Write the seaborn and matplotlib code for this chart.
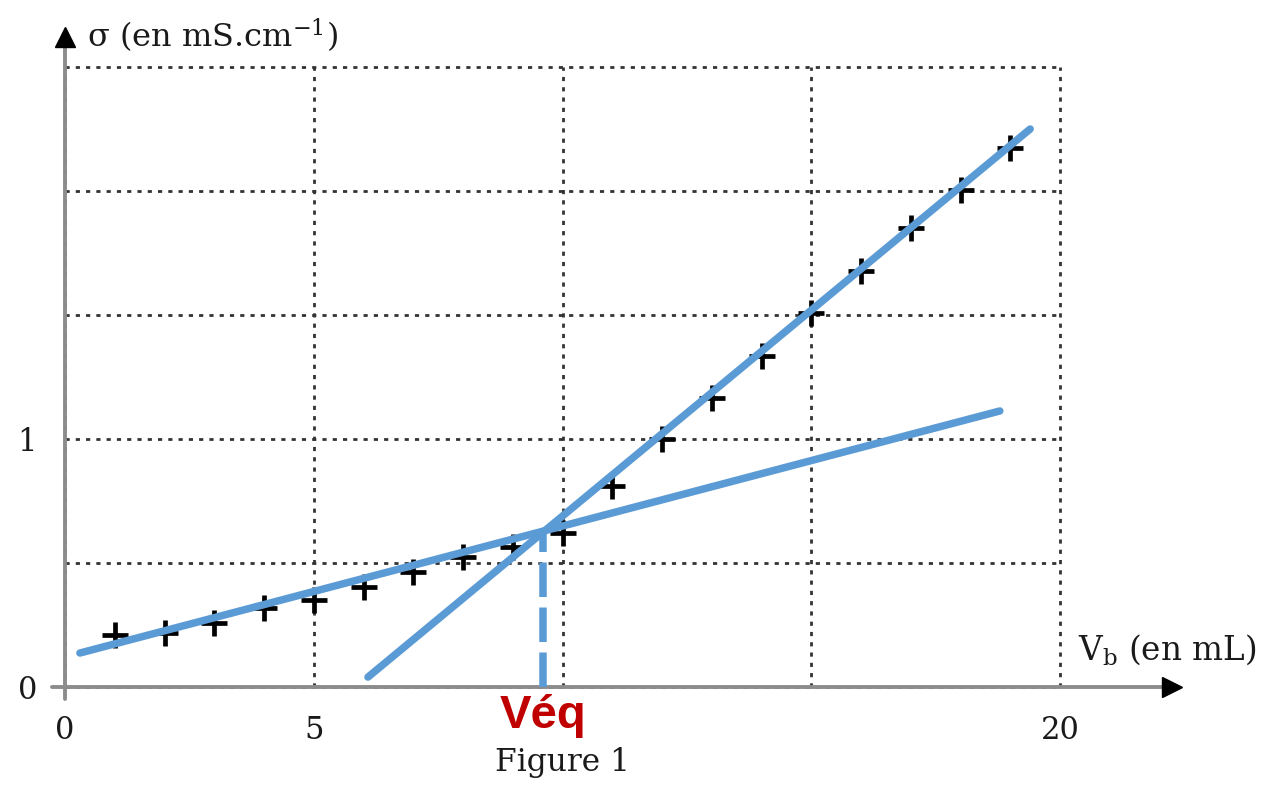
import matplotlib
matplotlib.use("Agg")
import matplotlib.pyplot as plt
import seaborn as sns
import numpy as np

# ---- data ----
vb = [1, 2, 3, 4, 5, 6, 7, 8, 9, 10, 11, 12, 13, 14, 15, 16, 17, 18, 19]
sigma = [0.21, 0.218, 0.258, 0.319, 0.351, 0.403, 0.464, 0.524, 0.565, 0.621,
         0.81, 1.0, 1.165, 1.335, 1.508, 1.677, 1.851, 2.004, 2.173]

line1_x = [0.30, 18.79]
line1_y = [0.137, 1.113]
line2_x = [6.09, 19.40]
line2_y = [0.04, 2.25]
veq_x = [9.6, 9.6]
veq_y = [0.0, 0.63]

xticks = [0, 5, 10, 15, 20]
xtick_labels = ["0", "5", "", "", "20"]
yticks = [0, 0.5, 1, 1.5, 2, 2.5]
ytick_labels = ["0", "", "1", "", "", ""]

sns.set_theme(style="white")
plt.rcParams["font.family"] = ["DejaVu Serif"]
plt.rcParams["mathtext.fontset"] = "dejavuserif"

fig = plt.figure(figsize=(12.66, 7.87), dpi=100)
ax = fig.add_axes([65 / 1266, 100 / 787, 995 / 1266, 620 / 787])
ax.set_xlim(0, 20)
ax.set_ylim(0, 2.5)

# grid
ax.set_xticks(xticks, labels=xtick_labels)
ax.set_yticks(yticks, labels=ytick_labels)
ax.grid(True, color="#333333", linewidth=2.0, linestyle=(0, (1.5, 2.2)))
for gl in ax.get_xgridlines() + ax.get_ygridlines():
    gl.set_clip_on(False)
ax.tick_params(axis="both", length=0, labelsize=22, colors="#1a1a1a")
ax.tick_params(axis="x", pad=20)
ax.tick_params(axis="y", pad=20)
for s in ax.spines.values():
    s.set_visible(False)

# axes with arrows
ax.plot([-0.26, 22.2], [0, 0], color="#8c8c8c", lw=2.8, clip_on=False, zorder=3)
ax.plot([0, 0], [-0.05, 2.6], color="#8c8c8c", lw=2.8, clip_on=False, zorder=3)
ax.plot([22.25], [0], marker=">", color="black", markersize=15, clip_on=False, zorder=4)
ax.plot([0], [2.62], marker="^", color="black", markersize=14, clip_on=False, zorder=4)

# data points
sns.scatterplot(x=vb, y=sigma, marker="+", s=360, color="black", linewidth=3.4,
                ax=ax, zorder=5, clip_on=False)

# tangent lines
blue = "#5B9BD5"
sns.lineplot(x=line1_x, y=line1_y, color=blue, lw=5.4, ax=ax, zorder=6)
sns.lineplot(x=line2_x, y=line2_y, color=blue, lw=5.4, ax=ax, zorder=6)
ax.plot(veq_x, veq_y, color=blue, lw=5.4, linestyle=(0, (4.6, 1.4)), zorder=6,
        solid_capstyle="butt")

# texts
ax.text(0.44, 2.625, r"σ (en mS.cm$^{-1}$)", fontsize=23, ha="left", va="center",
        color="#1a1a1a", clip_on=False)
ax.text(20.36, 0.149, r"V$_\mathrm{b}$ (en mL)", fontsize=23.5, ha="left", va="center",
        color="#1a1a1a", clip_on=False)
ax.text(9.6, -0.117, "Véq", fontsize=34, ha="center", va="center", color="#C00000",
        fontweight="bold", family=["Liberation Sans", "DejaVu Sans"], clip_on=False)
ax.text(9.99, -0.306, "Figure 1", fontsize=22.5, ha="center", va="center",
        color="#1a1a1a", clip_on=False)

fig.savefig("out.png", dpi=100)
